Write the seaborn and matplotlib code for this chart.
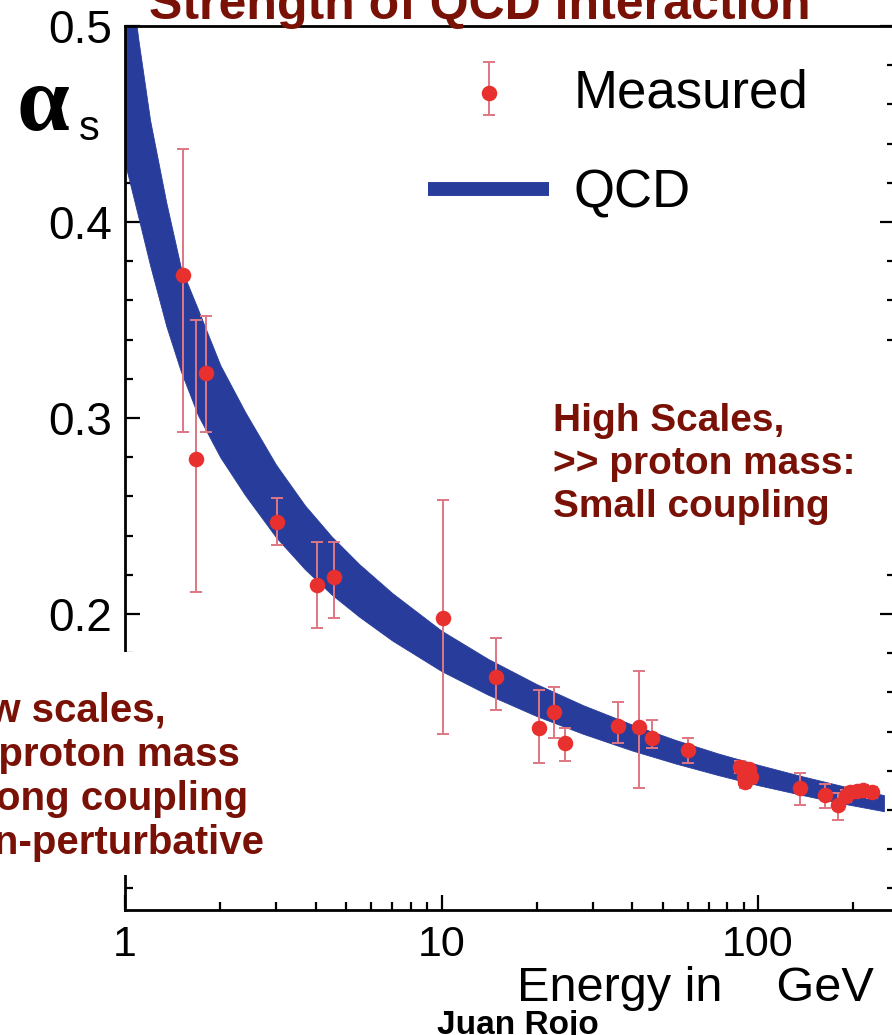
import numpy as np
import matplotlib
matplotlib.use('Agg')
import matplotlib.pyplot as plt
import seaborn as sns
from matplotlib.lines import Line2D
from matplotlib.patches import Rectangle
from matplotlib.ticker import FixedLocator, NullFormatter, LogLocator

# measured alpha_s: energy (GeV), central value, lower / upper end of error bar
E_meas = [1.52, 1.68, 1.80, 3.02, 4.03, 4.57, 10.1, 14.9, 20.4, 22.6, 24.6,
          36.2, 42.1, 46.2, 60.0, 88.0, 90.0, 91.2, 91.2, 92.5, 94.0, 95.0,
          136, 163, 179, 189, 196, 206, 215, 230]
a_meas = [0.373, 0.279, 0.323, 0.247, 0.215, 0.219, 0.198, 0.168, 0.142, 0.150, 0.134,
          0.143, 0.1425, 0.137, 0.1306, 0.122, 0.117, 0.1205, 0.1145, 0.119, 0.121, 0.117,
          0.111, 0.1077, 0.1026, 0.107, 0.109, 0.1095, 0.110, 0.109]
a_lo = [0.293, 0.211, 0.293, 0.235, 0.193, 0.198, 0.139, 0.151, 0.124, 0.137, 0.125,
        0.134, 0.111, 0.1315, 0.124, 0.119, 0.113, 0.117, 0.111, 0.116, 0.119, 0.114,
        0.1026, 0.1009, 0.095, 0.104, 0.106, 0.1065, 0.107, 0.106]
a_hi = [0.437, 0.350, 0.352, 0.259, 0.237, 0.237, 0.258, 0.188, 0.161, 0.163, 0.142,
        0.155, 0.171, 0.146, 0.137, 0.125, 0.121, 0.1235, 0.118, 0.122, 0.123, 0.120,
        0.119, 0.1133, 0.1085, 0.110, 0.112, 0.1125, 0.113, 0.112]

# QCD band edges
E_band = [1.0, 1.1, 1.2, 1.35, 1.5, 1.7, 2.0, 2.4, 3.0, 3.7, 4.5, 5.5, 7.0, 10,
          14, 20, 28, 40, 55, 75, 100, 135, 180, 250]
band_hi = [0.548, 0.494, 0.452, 0.410, 0.377, 0.3555, 0.327, 0.3029, 0.2762, 0.2555,
           0.2395, 0.2254, 0.2106, 0.1915, 0.1772, 0.1642, 0.1535, 0.1436, 0.1357,
           0.1288, 0.1231, 0.1176, 0.1127, 0.1076]
band_lo = [0.430, 0.403, 0.378, 0.347, 0.324, 0.3015, 0.280, 0.2605, 0.2392, 0.2229,
           0.2099, 0.1986, 0.1864, 0.1709, 0.1589, 0.1479, 0.1389, 0.1304, 0.1237,
           0.1178, 0.1127, 0.1080, 0.1037, 0.0994]

xticks = [1, 10, 100]
xtick_labels = ['1', '10', '100']
yticks = [0.2, 0.3, 0.4, 0.5]
ytick_labels = ['0.2', '0.3', '0.4', '0.5']

BLUE = '#283c9b'
RED = '#e8302f'
ERR = '#e07683'
DARKRED = '#7a1106'

sns.set_theme(style='ticks')
plt.rcParams['font.family'] = ['Liberation Sans', 'DejaVu Sans']
plt.rcParams['text.color'] = 'black'
plt.rcParams['axes.labelcolor'] = 'black'

W, H = 892, 1035
fig = plt.figure(figsize=(W / 100, H / 100), dpi=100)
fig.patch.set_facecolor('white')

def fx(px):
    return px / W

def fy(py):
    return 1 - py / H

ax = fig.add_axes([fx(125), fy(910), (895 - 125) / W, (910 - 26) / H])
ax.set_facecolor('white')

ax.fill_between(E_band, band_lo, band_hi, color=BLUE, lw=0.6, zorder=2)

a_meas_arr = np.array(a_meas)
yerr = [a_meas_arr - np.array(a_lo), np.array(a_hi) - a_meas_arr]
eb = ax.errorbar(E_meas, a_meas, yerr=yerr, fmt='none', ecolor=ERR, elinewidth=1.4,
                 capsize=4.5, capthick=1.4, zorder=3)
sns.scatterplot(x=E_meas, y=a_meas, ax=ax, s=125, color=RED, edgecolor=RED,
                linewidth=0, zorder=4, legend=False)
sc = ax.collections[-1]

ax.set_xscale('log')
ax.set_xlim(1, 10 ** ((895 - 125) / 316.5))
ax.set_ylim(0.049, 0.5)
ax.set_xticks(xticks)
ax.set_xticklabels(xtick_labels)
ax.xaxis.set_minor_locator(LogLocator(base=10, subs=np.arange(2, 10)))
ax.xaxis.set_minor_formatter(NullFormatter())
ax.set_yticks(yticks)
ax.set_yticklabels(ytick_labels)
ax.yaxis.set_minor_locator(FixedLocator(np.arange(0.06, 0.5, 0.02)))

for s in ['left', 'bottom', 'top', 'right']:
    ax.spines[s].set_linewidth(2)
    ax.spines[s].set_color('black')
ax.tick_params(which='both', direction='in', top=False, right=True, width=1.6,
               color='black', labelcolor='black')
ax.tick_params(which='major', length=11)
ax.tick_params(which='minor', length=6)
ax.tick_params(axis='y', labelsize=33, pad=9)
ax.tick_params(axis='x', labelsize=31, pad=11)
ax.grid(False)

ax.set_xlabel('Energy in    GeV', fontsize=35, ha='right', color='black')
ax.xaxis.set_label_coords((874 - 125) / 770, -0.063)

qcd_handle = Line2D([], [], color=BLUE, lw=10, solid_capstyle='butt')
leg = ax.legend([(eb, sc), qcd_handle], ['Measured', 'QCD'], loc='upper left',
                bbox_to_anchor=((428 - 125) / 770, 1 - (68 - 26) / 884),
                frameon=False, fontsize=38, borderpad=0, borderaxespad=0,
                handlelength=2.3, handletextpad=0.45, labelspacing=0.95,
                scatterpoints=1)
for t in leg.get_texts():
    t.set_color('black')

# axis symbol
fig.text(fx(17), fy(130), '\u03b1', fontsize=68, family='Liberation Serif',
         weight='bold', va='baseline', ha='left', color='black')
fig.text(fx(79), fy(140), 's', fontsize=30, va='baseline', ha='left', color='black')

# white boxes of the slide text
fig.patches.append(Rectangle((fx(540), fy(540)), (W - 540) / W, 190 / H,
                             transform=fig.transFigure, fc='white', ec='none', zorder=2))
fig.patches.append(Rectangle((0, fy(875)), 280 / W, (875 - 652) / H,
                             transform=fig.transFigure, fc='white', ec='none', zorder=2))

fig.text(fx(553), fy(517), 'High Scales,\n>> proton mass:\nSmall coupling',
         fontsize=28, weight='bold', color=DARKRED, ha='left', va='baseline',
         linespacing=1.25, zorder=5)
fig.text(fx(264), fy(854), 'Low scales,\n<< proton mass\nStrong coupling\nNon-perturbative',
         fontsize=29, weight='bold', color=DARKRED, ha='right', va='baseline',
         multialignment='left', linespacing=1.2, zorder=5)

fig.text(fx(480), fy(19), 'Strength of QCD interaction', fontsize=36, weight='bold',
         color=DARKRED, ha='center', va='baseline')
fig.text(fx(437), fy(1034), 'Juan Rojo', fontsize=24, weight='bold', color='black',
         ha='left', va='baseline')

fig.savefig('out.png', dpi=100)
